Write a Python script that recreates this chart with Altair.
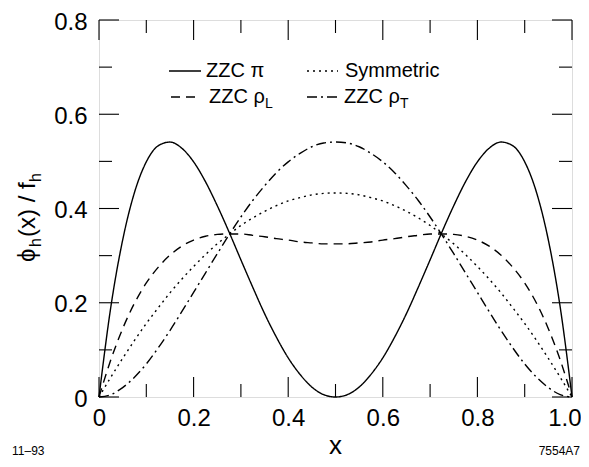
import altair as alt
import pandas as pd

# ---------------- data ----------------
x_grid = [0.0, 0.025, 0.05, 0.075, 0.1, 0.125, 0.15, 0.175, 0.2, 0.225,
          0.25, 0.275, 0.3, 0.325, 0.35, 0.375, 0.4, 0.425, 0.45, 0.475,
          0.5, 0.525, 0.55, 0.575, 0.6, 0.625, 0.65, 0.675, 0.7, 0.725,
          0.75, 0.775, 0.8, 0.825, 0.85, 0.875, 0.9, 0.925, 0.95, 0.975, 1.0]

zzc_pi = [0, .191, .333, .434, .499, .533, .541, .528, .499, .457, .406, .350, .291, .233,
          .177, .127, .083, .048, .021, .005, 0, .005, .021, .048, .083, .127, .177, .233,
          .291, .350, .406, .457, .499, .528, .541, .533, .499, .434, .333, .191, 0]

symmetric = [0, .042, .082, .120, .156, .189, .221, .250, .277, .302, .325, .345, .364, .380,
             .394, .406, .416, .423, .429, .432, .433, .432, .429, .423, .416, .406, .394, .380,
             .364, .345, .325, .302, .277, .250, .221, .189, .156, .120, .082, .042, 0]

zzc_rho_l = [0, .079, .145, .199, .242, .275, .301, .320, .333, .341, .345, .346, .346, .343,
             .340, .336, .333, .329, .327, .325, .325, .325, .327, .329, .333, .336, .340, .343,
             .346, .346, .345, .341, .333, .320, .301, .275, .242, .199, .145, .079, 0]

zzc_rho_t = [0, .005, .020, .042, .070, .104, .141, .181, .222, .263, .304, .344, .382, .417,
             .448, .476, .499, .517, .531, .539, .541, .539, .531, .517, .499, .476, .448, .417,
             .382, .344, .304, .263, .222, .181, .141, .104, .070, .042, .020, .005, 0]

series_names = ["ZZC π", "Symmetric", "ZZC ρL", "ZZC ρT"]

x_major = [0, 0.2, 0.4, 0.6, 0.8, 1.0]
x_minor = [0.1, 0.3, 0.5, 0.7, 0.9]
y_major = [0, 0.2, 0.4, 0.6, 0.8]
y_minor = [0.1, 0.3, 0.5, 0.7]

# ---------------- layout / style ----------------
W, H = 473, 377
FONT = "Liberation Sans"
DASHES = [[1, 0], [2, 4], [9, 6], [10, 4, 2, 4]]
LW = 1.4

rows = []
for name, vals in zip(series_names, [zzc_pi, symmetric, zzc_rho_l, zzc_rho_t]):
    for xv, yv in zip(x_grid, vals):
        rows.append({"x": xv, "y": yv, "series": name})
df = pd.DataFrame(rows)

xscale = alt.Scale(domain=[0, 1], nice=False, zero=False)
yscale = alt.Scale(domain=[0, 0.8], nice=False, zero=False)

lab_expr = "datum.value == 0 ? '0' : format(datum.value, '.1f')"
xaxis = alt.Axis(values=x_major, labelExpr=lab_expr, labelFontSize=24, labelFont=FONT,
                 labelColor="black", ticks=False, domain=False, grid=False, labelPadding=9,
                 labelAlign={"condition": {"test": "datum.value == 1", "value": "right"}, "value": "center"},
                 labelOffset={"condition": {"test": "datum.value == 1", "value": 9}, "value": 0},
                 labelFlush=False, labelOverlap=False, title=None)
yaxis = alt.Axis(values=y_major, labelExpr=lab_expr, labelFontSize=24, labelFont=FONT,
                 labelColor="black", ticks=False, domain=False, grid=False, labelPadding=12,
                 labelOffset=2, labelFlush=False, labelOverlap=False, title=None)

lines = alt.Chart(df).mark_line(color="black", strokeWidth=LW, interpolate="monotone").encode(
    x=alt.X("x:Q", scale=xscale, axis=xaxis),
    y=alt.Y("y:Q", scale=yscale, axis=yaxis),
    strokeDash=alt.StrokeDash("series:N", scale=alt.Scale(domain=series_names, range=DASHES),
                              legend=None),
    detail="series:N",
)

layers = [lines]

# inward ticks on all four sides
def xticks(vals, length):
    d = pd.DataFrame({"x": vals})
    base = alt.Chart(d).mark_rule(color="black", strokeWidth=1.1)
    return [
        base.encode(x=alt.X("x:Q", scale=xscale, axis=xaxis), y=alt.value(H), y2=alt.value(H - length)),
        base.encode(x=alt.X("x:Q", scale=xscale, axis=xaxis), y=alt.value(0), y2=alt.value(length)),
    ]

def yticks(vals, length):
    d = pd.DataFrame({"y": vals})
    base = alt.Chart(d).mark_rule(color="black", strokeWidth=1.1)
    return [
        base.encode(y=alt.Y("y:Q", scale=yscale, axis=yaxis), x=alt.value(0), x2=alt.value(length)),
        base.encode(y=alt.Y("y:Q", scale=yscale, axis=yaxis), x=alt.value(W), x2=alt.value(W - length)),
    ]

layers += xticks(x_major, 20) + xticks(x_minor, 13) + yticks(y_major, 20) + yticks(y_minor, 13)

one = pd.DataFrame({"a": [0]})

# manual legend
leg = [
    # (main text, subscript, line x0, line x1, text x, y, dash)
    ("ZZC π", "", 70, 102, 107, 51, DASHES[0]),
    ("Symmetric", "", 208, 239, 246, 51, DASHES[1]),
    ("ZZC ρ", "L", 72, 102, 110, 77, DASHES[2]),
    ("ZZC ρ", "T", 208, 239, 245, 77, DASHES[3]),
]
for txt, sub, lx0, lx1, tx, ty, dash in leg:
    layers.append(alt.Chart(one).mark_rule(color="black", strokeWidth=LW, strokeDash=dash).encode(
        x=alt.value(lx0), x2=alt.value(lx1), y=alt.value(ty)))
    layers.append(alt.Chart(one).mark_text(text=txt, align="left", baseline="middle", fontSize=20,
                                           font=FONT, color="black").encode(
        x=alt.value(tx), y=alt.value(ty)))
    if sub:
        layers.append(alt.Chart(one).mark_text(text=sub, align="left", baseline="middle", fontSize=14,
                                               font=FONT, color="black", dx=56, dy=7).encode(
            x=alt.value(tx), y=alt.value(ty)))

# y title built from pieces (rotated)
yt_x, yt_y = -64, 242
pieces = [("ϕ", 24, 0, 0), ("h", 16, 15, 6), ("(x) / f", 24, 25, 0), ("h", 16, 80, 6)]
for txt, fs, dx, dy in pieces:
    layers.append(alt.Chart(one).mark_text(text=txt, align="left", baseline="alphabetic", fontSize=fs,
                                           font=FONT, color="black", angle=270, dx=dx, dy=dy).encode(
        x=alt.value(yt_x), y=alt.value(yt_y)))

# x title
layers.append(alt.Chart(one).mark_text(text="x", align="center", baseline="bottom", fontSize=26,
                                       font=FONT, color="black").encode(x=alt.value(W / 2), y=alt.value(439)))

# footers
layers.append(alt.Chart(one).mark_text(text="11–93", align="left", baseline="middle", fontSize=12,
                                       font=FONT, color="black").encode(x=alt.value(-87), y=alt.value(431)))
layers.append(alt.Chart(one).mark_text(text="7554A7", align="right", baseline="middle", fontSize=12,
                                       font=FONT, color="black").encode(x=alt.value(481), y=alt.value(431)))

chart = alt.layer(*layers).properties(
    width=W, height=H, autosize="none",
    padding={"left": 91, "top": 12, "right": 9, "bottom": 62},
).configure_view(stroke="black", strokeWidth=1.3).configure(background="white")

chart.save("out.html", embed_options={"renderer": "svg", "actions": False})
